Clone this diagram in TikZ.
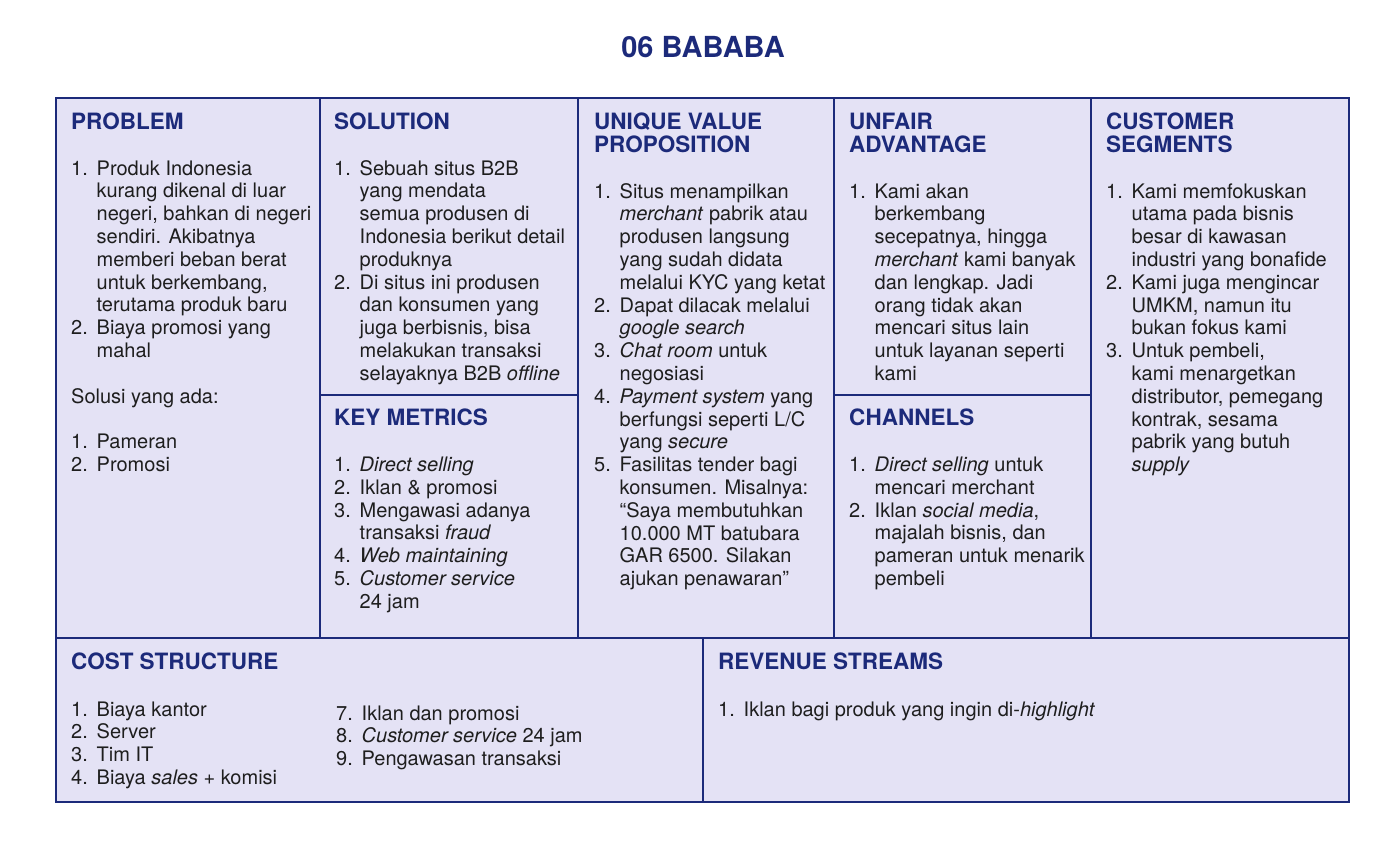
\documentclass[tikz,border=0pt]{standalone}
\usepackage{fontspec}
\setmainfont{TeX Gyre Heros}

\definecolor{navy}{RGB}{28,42,122}
\definecolor{lavender}{RGB}{228,226,245}
\definecolor{ink}{RGB}{30,30,30}

\newcommand\nr[1]{\makebox[25.5pt][l]{#1.}}
\newcommand\cn{\hspace*{25.5pt}}

\begin{document}
\begin{tikzpicture}[x=1pt,y=-1pt]

        \useasboundingbox (0,0) rectangle (1393,844);

        \fill[lavender] (56,98) rectangle (1349,802);
        \begin{scope}[navy, line width=2.4pt]
          \draw (56,98) rectangle (1349,802);
          \draw (56,638) -- (1349,638);
          \foreach \x in {320,578,834,1091} \draw (\x,98) -- (\x,638);
          \draw (703,638) -- (703,802);
          \draw (320,395) -- (578,395);
          \draw (834,395) -- (1091,395);
        \end{scope}

        \node[anchor=base, text=navy, font=\fontsize{29}{32}\bfseries\selectfont] (title) at (703,57.5) {06 BABABA};

        % nodes sit on the baseline of their last line
        \begin{scope}[every node/.style={anchor=base west, inner sep=0pt, align=left, text=navy, font=\fontsize{22.5}{23}\bfseries\selectfont}]
          \node (prob) at (71,129)   {PROBLEM};
          \node (sol)  at (334,129)  {SOLUTION};
          \node (uvp)  at (594,152)  {UNIQUE VALUE\\PROPOSITION};
          \node (unf)  at (849,152)  {UNFAIR\\ADVANTAGE};
          \node (cust) at (1106,152) {CUSTOMER\\SEGMENTS};
          \node (key)  at (334,425)  {KEY METRICS};
          \node (chan) at (849,425)  {CHANNELS};
          \node (cost) at (71,669)   {COST STRUCTURE};
          \node (rev)  at (718,669)  {REVENUE STREAMS};
        \end{scope}

        \begin{scope}[every node/.style={anchor=base west, inner sep=0pt, align=left, text=ink, font=\fontsize{20}{22.8}\selectfont}]
          \node (probtxt) at (71,471.4) {\nr{1}Produk Indonesia\\
            \cn kurang dikenal di luar\\
            \cn negeri, bahkan di negeri\\
            \cn sendiri. Akibatnya\\
            \cn memberi beban berat\\
            \cn untuk berkembang,\\
            \cn terutama produk baru\\
            \nr{2}Biaya promosi yang\\
            \cn mahal\\[22.8pt]
            Solusi yang ada:\\[22.8pt]
            \nr{1}Pameran\\
            \nr{2}Promosi};
          \node (soltxt) at (334,380.2) {\nr{1}Sebuah situs B2B\\
            \cn yang mendata\\
            \cn semua produsen di\\
            \cn Indonesia berikut detail\\
            \cn produknya\\
            \nr{2}Di situs ini produsen\\
            \cn dan konsumen yang\\
            \cn juga berbisnis, bisa\\
            \cn melakukan transaksi\\
            \cn selayaknya B2B \textit{offline}};
          \node (keytxt) at (334,608.3) {\nr{1}\textit{Direct selling}\\
            \nr{2}Iklan \& promosi\\
            \nr{3}Mengawasi adanya\\
            \cn transaksi \textit{fraud}\\
            \nr{4}\textit{Web maintaining}\\
            \nr{5}\textit{Customer service}\\
            \cn 24 jam};
          \node (uvptxt) at (594,585.6) {\nr{1}Situs menampilkan\\
            \cn \textit{merchant} pabrik atau\\
            \cn produsen langsung\\
            \cn yang sudah didata\\
            \cn melalui KYC yang ketat\\
            \nr{2}Dapat dilacak melalui\\
            \cn \textit{google search}\\
            \nr{3}\textit{Chat room} untuk\\
            \cn negosiasi\\
            \nr{4}\textit{Payment system} yang\\
            \cn berfungsi seperti L/C\\
            \cn yang \textit{secure}\\
            \nr{5}Fasilitas tender bagi\\
            \cn konsumen. Misalnya:\\
            \cn “Saya membutuhkan\\
            \cn 10.000 MT batubara\\
            \cn GAR 6500. Silakan\\
            \cn ajukan penawaran”};
          \node (unftxt) at (849,380.4) {\nr{1}Kami akan\\
            \cn berkembang\\
            \cn secepatnya, hingga\\
            \cn \textit{merchant} kami banyak\\
            \cn dan lengkap. Jadi\\
            \cn orang tidak akan\\
            \cn mencari situs lain\\
            \cn untuk layanan seperti\\
            \cn kami};
          \node (chantxt) at (849,585.5) {\nr{1}\textit{Direct selling} untuk\\
            \cn mencari merchant\\
            \nr{2}Iklan \textit{social media},\\
            \cn majalah bisnis, dan\\
            \cn pameran untuk menarik\\
            \cn pembeli};
          \node (custtxt) at (1106,471.6) {\nr{1}Kami memfokuskan\\
            \cn utama pada bisnis\\
            \cn besar di kawasan\\
            \cn industri yang bonafide\\
            \nr{2}Kami juga mengincar\\
            \cn UMKM, namun itu\\
            \cn bukan fokus kami\\
            \nr{3}Untuk pembeli,\\
            \cn kami menargetkan\\
            \cn distributor, pemegang\\
            \cn kontrak, sesama\\
            \cn pabrik yang butuh\\
            \cn \textit{supply}};
          \node (costa) at (71,784.4) {\nr{1}Biaya kantor\\
            \nr{2}Server\\
            \nr{3}Tim IT\\
            \nr{4}Biaya \textit{sales} + komisi};
          \node (costb) at (336,765.6) {\nr{7}Iklan dan promosi\\
            \nr{8}\textit{Customer service} 24 jam\\
            \nr{9}Pengawasan transaksi};
          \node (revtxt) at (718,716) {\nr{1}Iklan bagi produk yang ingin di-\textit{highlight}};
        \end{scope}

\end{tikzpicture}
\end{document}
